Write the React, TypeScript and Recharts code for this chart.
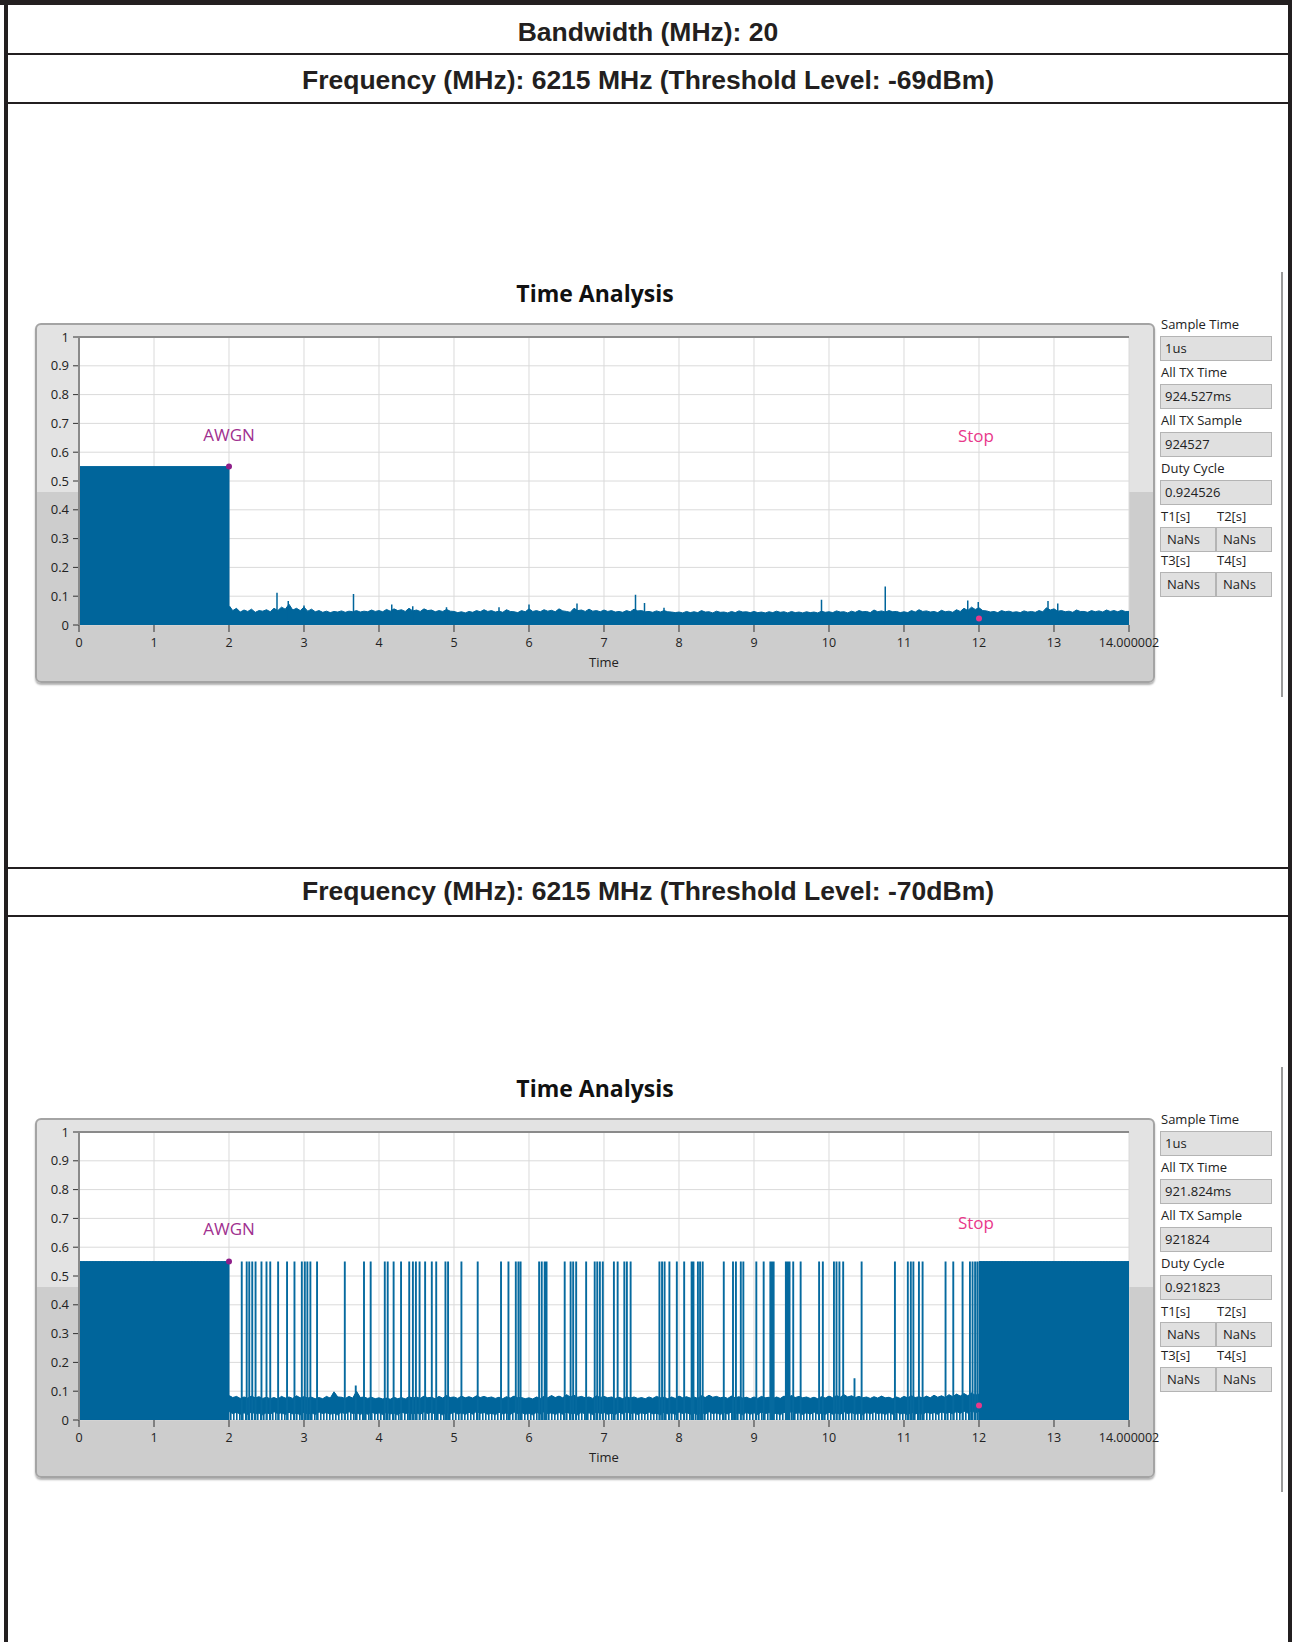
import React from "react";
import {
  ComposedChart,
  Area,
  Line,
  XAxis,
  YAxis,
  CartesianGrid,
  ReferenceDot,
} from "recharts";

// ---------- axis ticks ----------
const xTicks = [0, 1, 2, 3, 4, 5, 6, 7, 8, 9, 10, 11, 12, 13, 14.000002];
const xTickLabels = ["0", "1", "2", "3", "4", "5", "6", "7", "8", "9", "10", "11", "12", "13", "14.000002"];
const yTicks = [0, 0.1, 0.2, 0.3, 0.4, 0.5, 0.6, 0.7, 0.8, 0.9, 1];
const yTickLabels = ["0", "0.1", "0.2", "0.3", "0.4", "0.5", "0.6", "0.7", "0.8", "0.9", "1"];

// ---------- chart 1 (threshold -69 dBm) ----------
const c1BlockStart = 0;
const c1BlockEnd = 2;
const c1BlockLevel = 0.55;
const c1NoiseStart = 2.0;
const c1NoiseStep = 0.05;
const c1NoiseTop = [
  0.068, 0.05, 0.058, 0.045, 0.052, 0.047, 0.055, 0.044, 0.05, 0.048, 0.053, 0.046, 0.058, 0.05, 0.062, 0.055, 0.072, 0.052, 0.058, 0.05,
  0.062, 0.048, 0.055, 0.046, 0.05, 0.044, 0.048, 0.043, 0.047, 0.045, 0.049, 0.044, 0.048, 0.046, 0.05, 0.045, 0.048, 0.046, 0.052, 0.047,
  0.05, 0.046, 0.054, 0.048, 0.056, 0.05, 0.053, 0.047, 0.058, 0.049, 0.052, 0.047, 0.056, 0.05, 0.052, 0.046, 0.05, 0.047, 0.054, 0.048,
  0.047, 0.043, 0.046, 0.042, 0.047, 0.044, 0.05, 0.046, 0.053, 0.047, 0.05, 0.045, 0.048, 0.044, 0.053, 0.047, 0.046, 0.043, 0.05, 0.046,
  0.056, 0.047, 0.05, 0.046, 0.053, 0.048, 0.051, 0.046, 0.056, 0.049, 0.047, 0.044, 0.058, 0.05, 0.052, 0.047, 0.055, 0.048, 0.05, 0.046,
  0.052, 0.047, 0.05, 0.045, 0.047, 0.044, 0.05, 0.046, 0.055, 0.049, 0.05, 0.046, 0.047, 0.044, 0.049, 0.045, 0.05, 0.046, 0.045, 0.043,
  0.045, 0.042, 0.047, 0.043, 0.046, 0.043, 0.05, 0.045, 0.046, 0.042, 0.048, 0.044, 0.045, 0.042, 0.047, 0.043, 0.049, 0.045, 0.046, 0.043,
  0.047, 0.043, 0.045, 0.042, 0.046, 0.043, 0.048, 0.044, 0.046, 0.042, 0.047, 0.043, 0.045, 0.042, 0.046, 0.043, 0.045, 0.042, 0.048, 0.044,
  0.046, 0.043, 0.049, 0.045, 0.046, 0.042, 0.048, 0.044, 0.05, 0.046, 0.047, 0.043, 0.052, 0.046, 0.049, 0.045, 0.05, 0.046, 0.047, 0.043,
  0.046, 0.043, 0.05, 0.045, 0.053, 0.047, 0.049, 0.045, 0.047, 0.043, 0.051, 0.046, 0.048, 0.044, 0.053, 0.047, 0.058, 0.05, 0.062, 0.054,
  0.06, 0.05, 0.049, 0.045, 0.047, 0.043, 0.05, 0.046, 0.048, 0.044, 0.046, 0.043, 0.049, 0.045, 0.047, 0.044, 0.05, 0.046, 0.06, 0.052,
  0.056, 0.048, 0.05, 0.046, 0.048, 0.044, 0.052, 0.047, 0.047, 0.044, 0.05, 0.046, 0.049, 0.045, 0.052, 0.047, 0.05, 0.046, 0.051, 0.047,
  0.047,
];
const c1SpikeTimes = [2.64, 2.79, 3.0, 3.66, 4.17, 4.45, 4.9, 5.6, 6.0, 6.64, 7.42, 7.54, 7.8, 9.9, 10.75, 11.85, 11.99, 12.92, 13.05];
const c1SpikeHeights = [0.112, 0.083, 0.068, 0.108, 0.071, 0.065, 0.062, 0.062, 0.071, 0.075, 0.105, 0.076, 0.06, 0.088, 0.134, 0.085, 0.08, 0.083, 0.075];
const c1Awgn = { t: 2, v: 0.55, labelV: 0.66 };
const c1Stop = { t: 12, v: 0.023, labelT: 11.96, labelV: 0.655 };
const c1Indicators = { sampleTime: "1us", allTxTime: "924.527ms", allTxSample: "924527", dutyCycle: "0.924526" };

// ---------- chart 2 (threshold -70 dBm) ----------
const c2BlockA = [0, 2];
const c2BlockB = [12, 14.000002];
const c2BlockLevel = 0.55;
const c2NoiseStart = 2.0;
const c2NoiseStep = 0.05;
const c2NoiseTop = [
  0.085, 0.078, 0.082, 0.075, 0.08, 0.076, 0.083, 0.077, 0.081, 0.075, 0.079, 0.074, 0.078, 0.073, 0.082, 0.076, 0.08, 0.075, 0.084, 0.077,
  0.081, 0.076, 0.079, 0.074, 0.078, 0.074, 0.082, 0.076, 0.098, 0.08, 0.079, 0.075, 0.082, 0.076, 0.1, 0.078, 0.08, 0.075, 0.079, 0.074,
  0.077, 0.073, 0.076, 0.072, 0.079, 0.074, 0.078, 0.073, 0.081, 0.076, 0.08, 0.075, 0.083, 0.077, 0.079, 0.074, 0.082, 0.076, 0.085, 0.078,
  0.08, 0.075, 0.083, 0.077, 0.081, 0.076, 0.084, 0.078, 0.082, 0.077, 0.08, 0.075, 0.079, 0.074, 0.081, 0.076, 0.083, 0.077, 0.078, 0.074,
  0.077, 0.073, 0.08, 0.075, 0.082, 0.077, 0.085, 0.078, 0.083, 0.077, 0.088, 0.08, 0.086, 0.079, 0.082, 0.077, 0.08, 0.075, 0.084, 0.078,
  0.082, 0.077, 0.08, 0.075, 0.079, 0.074, 0.081, 0.076, 0.08, 0.075, 0.078, 0.074, 0.08, 0.075, 0.082, 0.077, 0.079, 0.074, 0.08, 0.075,
  0.083, 0.077, 0.081, 0.076, 0.08, 0.075, 0.084, 0.078, 0.086, 0.079, 0.082, 0.077, 0.08, 0.075, 0.083, 0.077, 0.081, 0.076, 0.079, 0.074,
  0.08, 0.075, 0.082, 0.077, 0.079, 0.074, 0.08, 0.075, 0.083, 0.077, 0.085, 0.078, 0.082, 0.077, 0.08, 0.075, 0.079, 0.074, 0.081, 0.076,
  0.083, 0.077, 0.085, 0.079, 0.088, 0.08, 0.084, 0.078, 0.082, 0.077, 0.08, 0.075, 0.081, 0.076, 0.083, 0.077, 0.079, 0.074, 0.08, 0.075,
  0.082, 0.077, 0.084, 0.078, 0.081, 0.076, 0.083, 0.077, 0.086, 0.079, 0.084, 0.078, 0.088, 0.081, 0.09, 0.083, 0.092, 0.084, 0.094, 0.086,
  0.09,
];
const c2NoiseLow = [
  0.03, 0.022, 0.027, 0.02, 0.025, 0.019, 0.028, 0.021, 0.024, 0.018, 0.026, 0.02, 0.029, 0.022, 0.025, 0.019, 0.027, 0.021, 0.024, 0.018,
  0.027, 0.02, 0.025, 0.019, 0.028, 0.022, 0.026, 0.02, 0.024, 0.018, 0.027, 0.021, 0.029, 0.022, 0.025, 0.019, 0.026, 0.02, 0.028, 0.021,
  0.025, 0.019, 0.027, 0.021, 0.024, 0.018, 0.028, 0.022, 0.026, 0.02, 0.025, 0.019, 0.029, 0.022, 0.027, 0.02, 0.024, 0.018, 0.026, 0.021,
  0.028, 0.021, 0.025, 0.019, 0.027, 0.02, 0.03, 0.023, 0.026, 0.02, 0.024, 0.018, 0.027, 0.021, 0.025, 0.019, 0.028, 0.022, 0.026, 0.02,
  0.024, 0.018, 0.027, 0.021, 0.029, 0.022, 0.025, 0.019, 0.026, 0.02, 0.028, 0.021, 0.024, 0.018, 0.027, 0.02, 0.025, 0.019, 0.028, 0.022,
  0.026, 0.02, 0.024, 0.019, 0.027, 0.021, 0.029, 0.022, 0.025, 0.019, 0.026, 0.02, 0.028, 0.021, 0.024, 0.018, 0.027, 0.021, 0.025, 0.019,
  0.028, 0.022, 0.026, 0.02, 0.024, 0.018, 0.027, 0.02, 0.029, 0.022, 0.025, 0.019, 0.026, 0.021, 0.028, 0.021, 0.024, 0.018, 0.027, 0.02,
  0.025, 0.019, 0.028, 0.022, 0.026, 0.02, 0.024, 0.018, 0.027, 0.021, 0.03, 0.023, 0.025, 0.019, 0.026, 0.02, 0.028, 0.021, 0.024, 0.019,
  0.027, 0.02, 0.025, 0.019, 0.029, 0.022, 0.026, 0.02, 0.024, 0.018, 0.027, 0.021, 0.028, 0.022, 0.025, 0.019, 0.026, 0.02, 0.028, 0.021,
  0.024, 0.018, 0.027, 0.021, 0.025, 0.019, 0.028, 0.022, 0.026, 0.02, 0.029, 0.022, 0.027, 0.021, 0.03, 0.023, 0.031, 0.024, 0.032, 0.025,
  0.03,
];
const c2SpikeTimes = [
  2.17, 2.236, 2.27, 2.31, 2.354, 2.433, 2.5, 2.55, 2.655, 2.774, 2.873, 2.971, 3.011, 3.045, 3.085, 3.174,
  3.544, 3.8, 3.889, 4.077, 4.116, 4.195, 4.294, 4.403, 4.452, 4.492, 4.541, 4.615, 4.704, 4.763, 4.886, 4.921,
  5.099, 5.316, 5.627, 5.726, 5.824, 5.859, 5.888, 6.135, 6.17, 6.209, 6.234, 6.476, 6.555, 6.589, 6.629, 6.762,
  6.876, 6.91, 6.945, 6.984, 7.132, 7.182, 7.271, 7.305, 7.355, 7.739, 7.774, 7.808, 7.872, 7.971, 8.069, 8.168,
  8.193, 8.252, 8.281, 8.316, 8.597, 8.72, 8.759, 8.824, 8.858, 9.031, 9.129, 9.218, 9.242, 9.262, 9.425, 9.449,
  9.474, 9.523, 9.622, 9.868, 9.918, 10.066, 10.1, 10.139, 10.189, 10.435, 10.879, 11.051, 11.091, 11.125, 11.199,
  11.248, 11.554, 11.657, 11.781, 11.879, 11.914, 11.948, 11.978,
];
const c2SmallSpikeTimes = [3.69, 10.34];
const c2SmallSpikeHeights = [0.12, 0.145];
const c2Awgn = { t: 2, v: 0.55, labelV: 0.663 };
const c2Stop = { t: 12, v: 0.05, labelT: 11.96, labelV: 0.685 };
const c2Indicators = { sampleTime: "1us", allTxTime: "921.824ms", allTxSample: "921824", dutyCycle: "0.921823" };

// ---------- styles ----------
const SIGNAL = "#00659b";
const INK = "#231f20";
const AWGN_COLOR = "#a0308f";
const AWGN_DOT = "#8e1f8a";
const STOP_COLOR = "#e8388a";
const UI_FONT = "'Open Sans', 'Noto Sans', sans-serif";

const round = (v: number) => Math.round(v * 1000) / 1000;

function spikePath(times: number[], heights: number[] | number) {
  const out: { t: number; s: number | null }[] = [];
  times.forEach((t, i) => {
    const h = Array.isArray(heights) ? heights[i] : heights;
    out.push({ t, s: 0 });
    out.push({ t, s: h });
    out.push({ t, s: null });
  });
  return out;
}

// chart 1 data
const c1Area = [
  { t: c1BlockStart, hi: c1BlockLevel },
  { t: c1BlockEnd, hi: c1BlockLevel },
  ...c1NoiseTop.map((v, i) => ({ t: round(c1NoiseStart + i * c1NoiseStep), hi: v })),
];
const c1Spikes = spikePath(c1SpikeTimes, c1SpikeHeights);

// chart 2 data
const c2Hatch = [
  { t: c2BlockA[0], hi: c2BlockLevel },
  { t: c2BlockA[1], hi: c2BlockLevel },
  ...c2NoiseTop.map((v, i) => ({ t: round(c2NoiseStart + i * c2NoiseStep), hi: v })),
  { t: c2BlockB[0], hi: c2BlockLevel },
  { t: c2BlockB[1], hi: c2BlockLevel },
];
const c2Band = [
  { t: c2BlockA[0], band: [0, c2BlockLevel] },
  { t: c2BlockA[1], band: [0, c2BlockLevel] },
  ...c2NoiseTop.map((v, i) => ({ t: round(c2NoiseStart + i * c2NoiseStep), band: [c2NoiseLow[i], v] })),
  { t: c2BlockB[0], band: [0, c2BlockLevel] },
  { t: c2BlockB[1], band: [0, c2BlockLevel] },
];
const c2Spikes = [
  ...spikePath(c2SpikeTimes, c2BlockLevel),
  ...spikePath(c2SmallSpikeTimes, c2SmallSpikeHeights),
];

// ---------- layout constants (page coordinates) ----------
const FRAME_LEFT = 35;
const FRAME_W = 1120;
const FRAME_H = 360;
const SVG_EXTRA = 40;

type Marker = { t: number; v: number; labelV: number; labelT?: number };

function TimeChart(props: { top: number; kind: 1 | 2; awgn: Marker; stop: Marker }) {
  const { top, kind, awgn, stop } = props;
  const hatchId = `hatch${kind}`;
  return (
    <div style={{ position: "absolute", left: FRAME_LEFT, top, width: FRAME_W, height: FRAME_H }}>
      {/* LabVIEW-like frame */}
      <div
        style={{
          position: "absolute",
          left: 0,
          top: 0,
          width: FRAME_W,
          height: FRAME_H,
          boxSizing: "border-box",
          border: "2px solid #a4a4a4",
          borderRadius: 6,
          background:
            "linear-gradient(to bottom, #e3e3e3 0%, #e3e3e3 47%, #cdcdcd 47%, #cdcdcd 100%)",
          boxShadow: "0 2px 2px rgba(0,0,0,0.3)",
        }}
      />
      <div style={{ position: "absolute", left: 0, top: 0 }}>
        <ComposedChart
          width={FRAME_W + SVG_EXTRA}
          height={FRAME_H}
          margin={{ top: 14, right: 26 + SVG_EXTRA, bottom: 0, left: 0 }}
        >
          <defs>
            <pattern id={hatchId} width="3" height="6" patternUnits="userSpaceOnUse">
              <rect x="0" y="0" width="1.6" height="6" fill={SIGNAL} />
            </pattern>
          </defs>
          <CartesianGrid stroke="#dadada" strokeWidth={1} fill="#ffffff" />
          <XAxis
            dataKey="t"
            type="number"
            domain={[0, 14.000002]}
            ticks={xTicks}
            tickFormatter={(v: number) => xTickLabels[xTicks.indexOf(v)] ?? String(v)}
            interval={0}
            allowDataOverflow
            axisLine={false}
            tickLine={{ stroke: "#333", strokeWidth: 1 }}
            tickSize={7}
            tickMargin={6}
            height={58}
            tick={{ fill: "#222", fontSize: 12.5, fontFamily: UI_FONT }}
            label={{ value: "Time", position: "insideBottom", offset: 16, fill: "#222", fontSize: 13, fontFamily: UI_FONT }}
          />
          <YAxis
            type="number"
            domain={[0, 1]}
            ticks={yTicks}
            tickFormatter={(v: number) => yTickLabels[yTicks.indexOf(v)] ?? String(v)}
            interval={0}
            allowDataOverflow
            axisLine={false}
            tickLine={{ stroke: "#333", strokeWidth: 1 }}
            tickSize={6}
            tickMargin={4}
            width={44}
            tick={{ fill: "#222", fontSize: 13, fontFamily: UI_FONT }}
          />
          {kind === 1 ? (
            <Area
              data={c1Area}
              dataKey="hi"
              type="linear"
              stroke={SIGNAL}
              strokeWidth={1}
              fill={SIGNAL}
              fillOpacity={1}
              isAnimationActive={false}
              dot={false}
              activeDot={false}
            />
          ) : null}
          {kind === 2 ? (
            <Area
              data={c2Hatch}
              dataKey="hi"
              type="linear"
              stroke="none"
              fill={`url(#${hatchId})`}
              fillOpacity={1}
              isAnimationActive={false}
              dot={false}
              activeDot={false}
            />
          ) : null}
          {kind === 2 ? (
            <Area
              data={c2Band}
              dataKey="band"
              type="linear"
              stroke={SIGNAL}
              strokeWidth={1}
              fill={SIGNAL}
              fillOpacity={1}
              isAnimationActive={false}
              dot={false}
              activeDot={false}
            />
          ) : null}
          <Line
            data={kind === 1 ? c1Spikes : c2Spikes}
            dataKey="s"
            type="linear"
            stroke={kind === 1 ? SIGNAL : "#066a9f"}
            strokeWidth={kind === 1 ? 1.5 : 1.9}
            dot={false}
            activeDot={false}
            connectNulls={false}
            isAnimationActive={false}
          />
          <ReferenceDot x={awgn.t} y={awgn.v} r={3} fill={AWGN_DOT} stroke="none" ifOverflow="visible" />
          <ReferenceDot
            x={awgn.labelT ?? awgn.t}
            y={awgn.labelV}
            r={1}
            fill="none"
            stroke="none"
            ifOverflow="visible"
            label={{ value: "AWGN", position: "center", fill: AWGN_COLOR, fontSize: 17, fontFamily: UI_FONT }}
          />
          <ReferenceDot x={stop.t} y={stop.v} r={3} fill={STOP_COLOR} stroke="none" ifOverflow="visible" />
          <ReferenceDot
            x={stop.labelT ?? stop.t}
            y={stop.labelV}
            r={1}
            fill="none"
            stroke="none"
            ifOverflow="visible"
            label={{ value: "Stop", position: "center", fill: STOP_COLOR, fontSize: 17, fontFamily: UI_FONT }}
          />
        </ComposedChart>
      </div>
      {/* sunken plot edge */}
      <div
        style={{
          position: "absolute",
          left: 43,
          top: 13,
          width: 1051,
          height: 289,
          boxSizing: "border-box",
          borderTop: "2px solid #8a8a8a",
          borderLeft: "2px solid #8a8a8a",
          pointerEvents: "none",
        }}
      />
    </div>
  );
}

function Indicators(props: { top: number; vals: { sampleTime: string; allTxTime: string; allTxSample: string; dutyCycle: string } }) {
  const { top, vals } = props;
  const label: React.CSSProperties = {
    position: "absolute",
    fontFamily: UI_FONT,
    fontSize: 13,
    color: "#222",
    lineHeight: "16px",
    whiteSpace: "nowrap",
  };
  const box: React.CSSProperties = {
    position: "absolute",
    boxSizing: "border-box",
    height: 25,
    background: "#e0e0e0",
    border: "1px solid #b4b4b4",
    fontFamily: UI_FONT,
    fontSize: 13,
    color: "#222",
    lineHeight: "23px",
    paddingLeft: 4,
    whiteSpace: "nowrap",
  };
  const L = 1160;
  const W = 112;
  const rows: [string, string][] = [
    ["Sample Time", vals.sampleTime],
    ["All TX Time", vals.allTxTime],
    ["All TX Sample", vals.allTxSample],
    ["Duty Cycle", vals.dutyCycle],
  ];
  return (
    <>
      {rows.map(([l, v], i) => (
        <React.Fragment key={l}>
          <div style={{ ...label, left: L + 1, top: top + i * 48 - 8 }}>{l}</div>
          <div style={{ ...box, left: L, top: top + 12 + i * 48, width: W }}>{v}</div>
        </React.Fragment>
      ))}
      <div style={{ ...label, left: L + 1, top: top + 184 }}>T1[s]</div>
      <div style={{ ...label, left: L + 57, top: top + 184 }}>T2[s]</div>
      <div style={{ ...box, left: L, top: top + 203, width: 56, paddingLeft: 6 }}>NaNs</div>
      <div style={{ ...box, left: L + 56, top: top + 203, width: 56, paddingLeft: 6 }}>NaNs</div>
      <div style={{ ...label, left: L + 1, top: top + 228 }}>T3[s]</div>
      <div style={{ ...label, left: L + 57, top: top + 228 }}>T4[s]</div>
      <div style={{ ...box, left: L, top: top + 248, width: 56, paddingLeft: 6 }}>NaNs</div>
      <div style={{ ...box, left: L + 56, top: top + 248, width: 56, paddingLeft: 6 }}>NaNs</div>
    </>
  );
}

export default function App() {
  const hdr: React.CSSProperties = {
    position: "absolute",
    left: 8,
    width: 1280,
    textAlign: "center",
    fontFamily: "'Liberation Sans', Arial, sans-serif",
    fontWeight: 700,
    fontSize: 26.5,
    color: INK,
    lineHeight: "30px",
    whiteSpace: "nowrap",
  };
  const hline = (y: number): React.CSSProperties => ({
    position: "absolute",
    left: 4,
    top: y,
    width: 1286,
    height: 2,
    background: INK,
  });
  const title: React.CSSProperties = {
    position: "absolute",
    left: FRAME_LEFT,
    width: 1120,
    textAlign: "center",
    fontFamily: UI_FONT,
    fontWeight: 700,
    fontSize: 23,
    color: "#111",
    lineHeight: "28px",
  };
  const OFF = 795;
  return (
    <div style={{ position: "absolute", left: 0, top: 0, width: 1292, height: 1642, background: "#fff", overflow: "hidden" }}>
      {/* table borders */}
      <div style={{ position: "absolute", left: 0, top: 0, width: 1292, height: 5, background: INK }} />
      <div style={{ position: "absolute", left: 4, top: 0, width: 4, height: 1642, background: INK }} />
      <div style={{ position: "absolute", left: 1288, top: 0, width: 4, height: 1642, background: INK }} />
      <div style={hline(53)} />
      <div style={hline(102)} />
      <div style={hline(867)} />
      <div style={hline(915)} />

      <div style={{ ...hdr, top: 17 }}>Bandwidth (MHz): 20</div>
      <div style={{ ...hdr, top: 65 }}>Frequency (MHz): 6215 MHz (Threshold Level: -69dBm)</div>
      <div style={{ ...hdr, top: 876 }}>Frequency (MHz): 6215 MHz (Threshold Level: -70dBm)</div>

      {/* chart 1 */}
      <div style={{ ...title, top: 279 }}>Time Analysis</div>
      <TimeChart top={323} kind={1} awgn={c1Awgn} stop={c1Stop} />
      <Indicators top={324} vals={c1Indicators} />
      <div style={{ position: "absolute", left: 1281, top: 272, width: 2, height: 425, background: "#9a9a9a" }} />

      {/* chart 2 */}
      <div style={{ ...title, top: 279 + OFF }}>Time Analysis</div>
      <TimeChart top={323 + OFF} kind={2} awgn={c2Awgn} stop={c2Stop} />
      <Indicators top={324 + OFF} vals={c2Indicators} />
      <div style={{ position: "absolute", left: 1281, top: 272 + OFF, width: 2, height: 425, background: "#9a9a9a" }} />
    </div>
  );
}
